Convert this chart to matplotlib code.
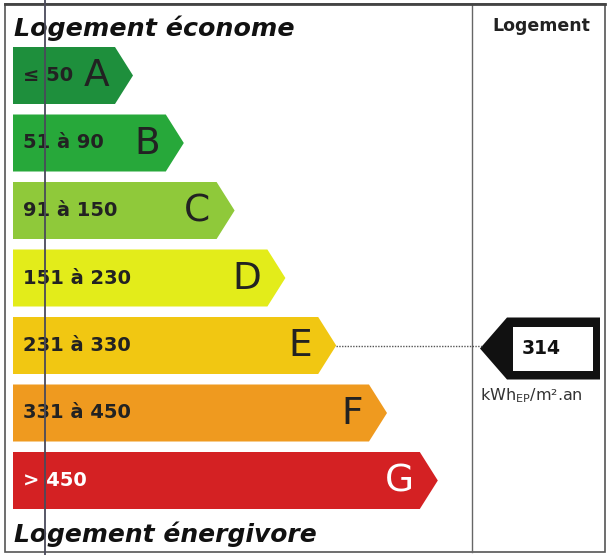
import matplotlib
matplotlib.use("Agg")
import matplotlib.pyplot as plt
from matplotlib.patches import Polygon, Rectangle

# ---- data ----
classes = ["A", "B", "C", "D", "E", "F", "G"]
range_labels = ["≤ 50", "51 à 90", "91 à 150", "151 à 230", "231 à 330", "331 à 450", "> 450"]
upper_bounds = [50, 90, 150, 230, 330, 450, float("inf")]
class_colors = ["#1e8f3c", "#27a83a", "#8fc93a", "#e3ec1a", "#f1c712", "#ef9a1f", "#d42123"]
value = 314
unit_label = "kWh$_{\\mathregular{EP}}$/m².an"
title_top = "Logement économe"
title_bottom = "Logement énergivore"
right_header = "Logement"

W, H = 610, 555
fig = plt.figure(figsize=(W / 100, H / 100), dpi=100)
ax = fig.add_axes([0, 0, 1, 1])
ax.set_xlim(0, W)
ax.set_ylim(H, 0)
ax.axis("off")

# frame
ax.add_patch(Rectangle((5, 4), 600, 548, fill=False, edgecolor="#555555", lw=1.2))
ax.plot([472, 472], [4, 552], color="#666666", lw=1.0)
ax.plot([45, 45], [0, 555], color="#4a4a5a", lw=1.3, zorder=5)
ax.plot([5, 605], [4, 4], color="#444444", lw=2.0)

# bars
top0, step, bh = 47, 67.5, 57
x0 = 13
tip0, tipstep = 133, 50.8
depth = 18
for i, (c, rl, col) in enumerate(zip(classes, range_labels, class_colors)):
    y = top0 + i * step
    tip = tip0 + i * tipstep
    body = tip - depth
    poly = Polygon([(x0, y), (body, y), (tip, y + bh / 2), (body, y + bh), (x0, y + bh)],
                   closed=True, facecolor=col, edgecolor="none")
    ax.add_patch(poly)
    tcol = "white" if c == "G" else "#222222"
    ax.text(x0 + 10, y + bh / 2, rl, ha="left", va="center", fontsize=14,
            fontweight="bold", color=tcol, family="DejaVu Sans")
    ax.text(body - 6, y + bh / 2 + 1, c, ha="right", va="center", fontsize=27,
            color=tcol, family="DejaVu Sans")

# titles
ax.text(14, 28, title_top, ha="left", va="center", fontsize=18.3, fontweight="bold",
        style="italic", color="#111111", family="DejaVu Sans")
ax.text(14, 534, title_bottom, ha="left", va="center", fontsize=18, fontweight="bold",
        style="italic", color="#111111", family="DejaVu Sans")
ax.text(541, 26, right_header, ha="center", va="center", fontsize=12.5, fontweight="bold",
        color="#222222", family="DejaVu Sans")

# indicator
idx = next(i for i, ub in enumerate(upper_bounds) if value <= ub)
yc = top0 + idx * step + bh / 2
tip_e = tip0 + idx * tipstep
ym = yc + 3
ax.plot([tip_e, 482], [yc, yc], color="#555555", lw=1.0, ls=(0, (1, 1)))
mk = Polygon([(480, ym), (507, ym - 31), (600, ym - 31), (600, ym + 31), (507, ym + 31)],
             closed=True, facecolor="#111111", edgecolor="none")
ax.add_patch(mk)
ax.add_patch(Rectangle((513, ym - 22), 80, 44, facecolor="white", edgecolor="none"))
ax.text(541, ym, str(value), ha="center", va="center", fontsize=13.5, fontweight="bold",
        color="#111111", family="DejaVu Sans")
ax.text(531, ym + 47, unit_label, ha="center", va="center", fontsize=11.5,
        color="#333333", family="DejaVu Sans")

fig.savefig("out.png", dpi=100)
